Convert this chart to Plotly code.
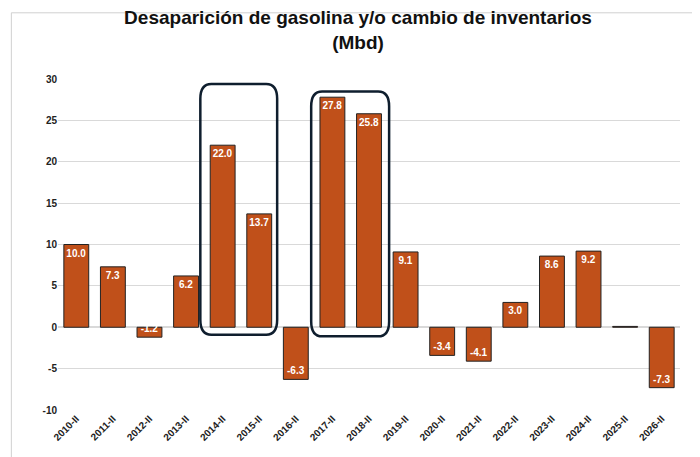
import plotly.graph_objects as go

years = ["2010-II", "2011-II", "2012-II", "2013-II", "2014-II", "2015-II", "2016-II", "2017-II", "2018-II",
         "2019-II", "2020-II", "2021-II", "2022-II", "2023-II", "2024-II", "2025-II", "2026-II"]
values = [10.0, 7.3, -1.2, 6.2, 22.0, 13.7, -6.3, 27.8, 25.8, 9.1, -3.4, -4.1, 3.0, 8.6, 9.2, 0.1, -7.3]
labels = [f"<b>{v:.1f}</b>" if abs(v) >= 0.5 else "" for v in values]


def rounded_box(x0, x1, y0, y1, rx=0.3, ry=1.8):
    return (f"M {x0+rx},{y0} L {x1-rx},{y0} Q {x1},{y0} {x1},{y0+ry} "
            f"L {x1},{y1-ry} Q {x1},{y1} {x1-rx},{y1} L {x0+rx},{y1} "
            f"Q {x0},{y1} {x0},{y1-ry} L {x0},{y0+ry} Q {x0},{y0} {x0+rx},{y0} Z")


fig = go.Figure()
fig.add_trace(go.Bar(
    x=list(range(len(years))), y=values, text=labels, textposition="inside",
    insidetextanchor="end", textangle=0, constraintext="none",
    textfont=dict(color="white", size=10, family="Liberation Sans"),
    marker=dict(color="#C0501A", line=dict(color="#222222", width=1)),
    width=0.68, cliponaxis=False,
))

for x0, x1, y0, y1 in [(3.39, 5.49, -0.9, 29.4), (6.42, 8.55, -1.1, 28.5)]:
    fig.add_shape(type="path", path=rounded_box(x0, x1, y0, y1),
                  line=dict(color="#0F1E2E", width=2.5), layer="above")

fig.add_shape(type="rect", xref="paper", yref="paper", x0=-0.075, x1=1.045, y0=-0.16, y1=1.2,
              line=dict(color="#D0D0D0", width=1))

fig.update_layout(
    width=700, height=457,
    margin=dict(l=50, r=28, t=71, b=55),
    paper_bgcolor="white", plot_bgcolor="white",
    title=dict(text="<b>Desaparición de gasolina y/o cambio de inventarios</b><br><b>(Mbd)</b>",
               x=0.5, xanchor="center", y=0.965, yanchor="top",
               font=dict(size=19, family="Liberation Sans", color="#111111")),
    showlegend=False,
    xaxis=dict(tickmode="array", tickvals=list(range(len(years))),
               ticktext=[f"<b>{y}</b>" for y in years],
               tickangle=-45, range=[-0.5, len(years) - 0.5], showgrid=False,
               tickfont=dict(size=10, family="Liberation Sans", color="#222222"), zeroline=False),
    yaxis=dict(range=[-10, 30], tickvals=[-10, -5, 0, 5, 10, 15, 20, 25, 30],
               ticktext=[f"<b>{v}</b>" for v in [-10, -5, 0, 5, 10, 15, 20, 25, 30]],
               gridcolor="#D9D9D9", zeroline=True, zerolinecolor="#D9D9D9",
               tickfont=dict(size=10, family="Liberation Sans", color="#222222"), ticksuffix="  "),
)
fig.write_html("out.html")
